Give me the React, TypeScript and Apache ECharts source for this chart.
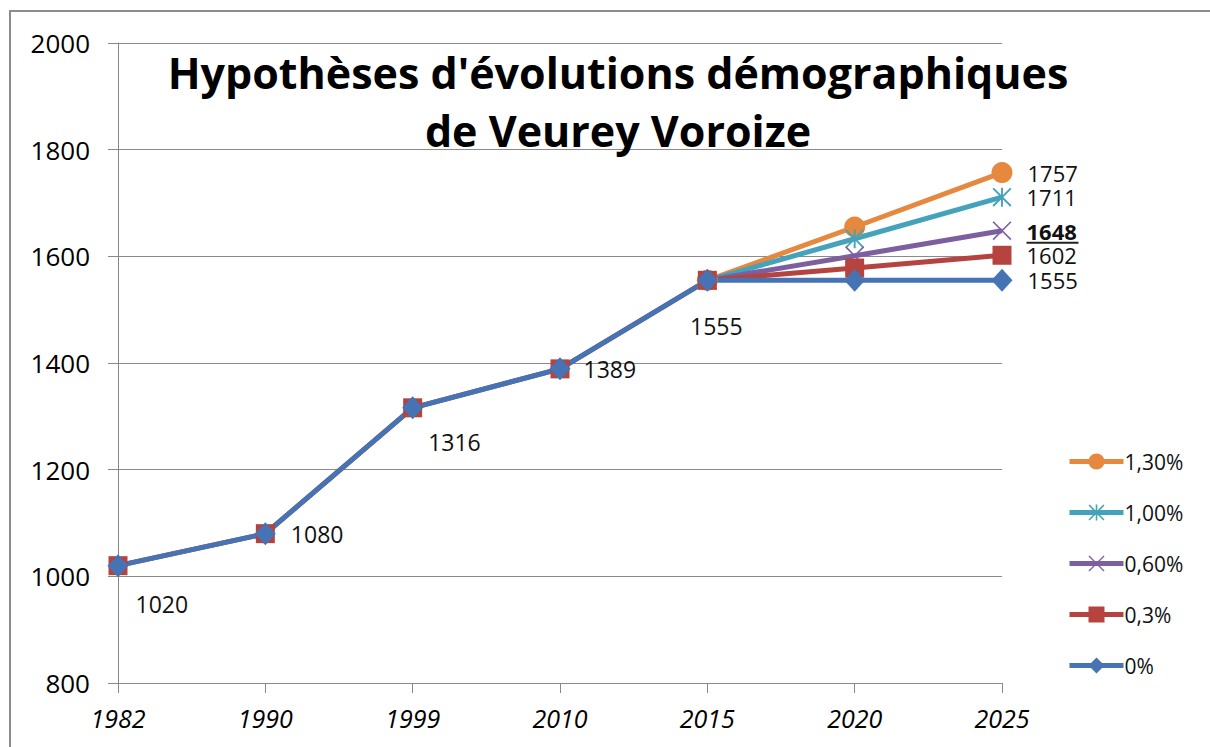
import React, { useEffect, useRef } from "react";
import * as echarts from "echarts";

const years = ["1982", "1990", "1999", "2010", "2015", "2020", "2025"];
const s0 = [1020, 1080, 1316, 1389, 1555, 1555, 1555];
const s03 = [1020, 1080, 1316, 1389, 1555, 1578, 1602];
const s06 = [null, null, null, null, 1555, 1601, 1648];
const s10 = [null, null, null, null, 1555, 1633, 1711];
const s13 = [null, null, null, null, 1555, 1655, 1757];
const seriesNames = ["1,30%", "1,00%", "0,60%", "0,3%", "0%"];
const yTicks = { min: 800, max: 2000, interval: 200 };

const FONT = "'Open Sans', 'Noto Sans', sans-serif";

const asterisk =
  "path://M9 0 L11 0 L11 20 L9 20 Z M0 1.4 L1.4 0 L20 18.6 L18.6 20 Z M18.6 0 L20 1.4 L1.4 20 L0 18.6 Z";
const cross =
  "path://M0 1.2 L1.2 0 L20 18.8 L18.8 20 Z M18.8 0 L20 1.2 L1.2 20 L0 18.8 Z";

export default function App() {
  const ref = useRef<HTMLDivElement>(null);
  useEffect(() => {
    const chart = echarts.init(ref.current!, null, { renderer: "svg" });
    const lbl = { color: "#111", fontSize: 23, lineHeight: 24, fontFamily: FONT };
    const endLabel = (extra: any = {}) => ({
      show: true,
      position: "right",
      offset: [10, 0],
      ...lbl,
      fontSize: 22,
      lineHeight: 22,
      ...extra,
    });
    const blueOffsets: any[] = [
      { position: "right", offset: [2, 38] },
      { position: "right", offset: [10, 0] },
      { position: "right", offset: [0, 34] },
      { position: "right", offset: [8, 0] },
      { position: "bottom", offset: [9, 17] },
      null,
      { position: "right", offset: [10, 0], fontSize: 22, lineHeight: 22 },
    ];
    const mk = (arr: any[], labelFn: (i: number) => any) =>
      arr.map((v, i) => {
        const l = labelFn(i);
        return l ? { value: v, label: l } : { value: v };
      });

    const option: any = {
      animation: false,
      title: {
        text: "Hypothèses d'évolutions démographiques\nde Veurey Voroize",
        left: 613,
        textAlign: "center",
        top: 38,
        textStyle: {
          fontFamily: FONT,
          fontWeight: "bold",
          fontSize: 43,
          lineHeight: 58,
          color: "#000",
        },
      },
      grid: { left: 118, right: 208, top: 43, bottom: 64, containLabel: false },
      legend: {
        orient: "vertical",
        left: 1062,
        top: 446,
        itemGap: 30,
        itemWidth: 54,
        itemHeight: 20,
        data: seriesNames,
        lineStyle: { width: 5 },
        textStyle: { fontFamily: FONT, fontSize: 21, color: "#111", padding: [0, 0, 0, -4] },
      },
      xAxis: {
        type: "category",
        data: years,
        boundaryGap: false,
        axisLine: { show: false },
        axisTick: { show: true, length: 10, lineStyle: { color: "#888" } },
        axisLabel: {
          margin: 22,
          fontFamily: FONT,
          fontStyle: "italic",
          fontSize: 25,
          color: "#000",
        },
        splitLine: { show: false },
      },
      yAxis: {
        type: "value",
        min: yTicks.min,
        max: yTicks.max,
        interval: yTicks.interval,
        axisLine: { show: true, lineStyle: { color: "#888" } },
        axisTick: { show: true, length: 10, lineStyle: { color: "#888" } },
        axisLabel: {
          margin: 28,
          fontFamily: FONT,
          fontSize: 26,
          color: "#000",
          formatter: (v: number) => String(v),
        },
        splitLine: { show: true, lineStyle: { color: "#8a8a8a", width: 1 } },
      },
      graphic: [
        {
          type: "rect",
          shape: { x: 10, y: 11, width: 1240, height: 800 },
          style: { fill: "none", stroke: "#8c8c8c", lineWidth: 2 },
          silent: true,
        },
      ],
      series: [
        {
          name: "1,30%",
          type: "line",
          data: mk(s13, (i) => (i === 6 ? endLabel() : null)),
          symbol: "circle",
          symbolSize: 21,
          color: "#E6883E",
          lineStyle: { width: 5 },
        },
        {
          name: "1,00%",
          type: "line",
          data: mk(s10, (i) => (i === 6 ? endLabel() : null)),
          symbol: asterisk,
          symbolSize: 19,
          color: "#44A3BA",
          lineStyle: { width: 5 },
        },
        {
          name: "0,60%",
          type: "line",
          data: mk(s06, (i) =>
            i === 6
              ? endLabel({
                  formatter: "{b|{c}}\n{u| }",
                  offset: [10, 1],
                  rich: {
                    b: { fontWeight: "bold", fontSize: 22, fontFamily: FONT, color: "#111", lineHeight: 22 },
                    u: { width: 52, height: 2, lineHeight: 2, fontSize: 2, backgroundColor: "#222" },
                  },
                })
              : null
          ),
          symbol: cross,
          symbolSize: 19,
          color: "#7D5FA0",
          lineStyle: { width: 5 },
        },
        {
          name: "0,3%",
          type: "line",
          data: mk(s03, (i) => (i === 6 ? endLabel() : null)),
          symbol: "rect",
          symbolSize: 19,
          color: "#B5433F",
          lineStyle: { width: 5 },
        },
        {
          name: "0%",
          type: "line",
          data: mk(s0, (i) => (blueOffsets[i] ? { show: true, ...lbl, ...blueOffsets[i] } : null)),
          symbol: "diamond",
          symbolSize: [21, 23],
          color: "#4673B3",
          lineStyle: { width: 5 },
        },
      ],
    };
    chart.setOption(option);
    return () => chart.dispose();
  }, []);
  return (
    <div
      ref={ref}
      style={{ position: "fixed", left: 0, top: 0, width: 1210, height: 747, background: "#fff" }}
    />
  );
}
